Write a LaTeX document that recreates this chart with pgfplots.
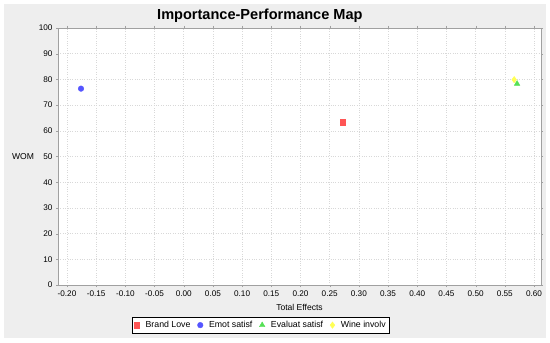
\documentclass[border=0pt]{standalone}
\usepackage{pgfplots}
\pgfplotsset{compat=1.18}
\usepackage{fontspec}
\setmainfont{Liberation Sans}
\definecolor{jred}{HTML}{FF5555}
\definecolor{jblue}{HTML}{5555FF}
\definecolor{jgreen}{HTML}{55E055}
\definecolor{jyellow}{HTML}{FFFF55}
\definecolor{panel}{HTML}{EEEEEE}
\definecolor{axgray}{HTML}{A0A0A0}
\definecolor{gridgray}{HTML}{D8D8D8}
\begin{document}
\begin{tikzpicture}[x=1bp,y=1bp]
\fill[white] (0,0) rectangle (550,342);
\fill[panel] (4,4) rectangle (546,338);
\begin{axis}[
  at={(58bp,57bp)}, anchor=south west,
  scale only axis, width=483bp, height=257bp,
  xmin=-0.2154, xmax=0.612, ymin=0, ymax=100,
  xtick={-0.20,-0.15,-0.10,-0.05,0,0.05,0.10,0.15,0.20,0.25,0.30,0.35,0.40,0.45,0.50,0.55,0.60},
  ytick={0,10,20,30,40,50,60,70,80,90,100},
  xticklabel style={/pgf/number format/fixed,/pgf/number format/fixed zerofill,/pgf/number format/precision=2},
  /pgf/number format/assume math mode=true,
  ticklabel style={font=\fontsize{8.2}{9}\selectfont},
  axis background/.style={fill=white},
  axis line style={axgray},
  tick style={axgray},
  tick align=outside, major tick length=2bp,
  grid=major, grid style={gridgray, dotted, line width=0.6pt},
  title={\textbf{Importance-Performance Map}},
  title style={font=\fontsize{14.6}{16}\selectfont, at={(axis description cs:0.418,1)}, anchor=center, yshift=6bp},
  xlabel={Total Effects},
  xlabel style={font=\fontsize{8.6}{9}\selectfont, at={(axis description cs:0.5,0)}, anchor=center, yshift=-22bp},
  ylabel={WOM},
  ylabel style={font=\fontsize{8.6}{9}\selectfont, at={(axis description cs:0,0.5)}, rotate=-90, anchor=center, xshift=-35bp},
  legend columns=-1,
  legend style={font=\fontsize{8.8}{10}\selectfont, at={(axis description cs:0.42,0)}, anchor=north, yshift=-32bp, draw=black, fill=white, inner xsep=2bp, inner ysep=2bp,
    /tikz/every odd column/.append style={column sep=4bp},
    /tikz/every even column/.append style={column sep=5bp}},
  legend cell align=left,
]
\addplot[only marks, mark=square*, mark size=2.8bp, jred, mark options={draw=jred, fill=jred}] coordinates {(0.272,63.3)};
\addlegendentry{Brand Love}
\addplot[only marks, mark=*, mark size=2.8bp, jblue, mark options={draw=jblue, fill=jblue}] coordinates {(-0.176,76.4)};
\addlegendentry{Emot satisf}
\addplot[only marks, mark=triangle*, mark size=3.2bp, jgreen, mark options={draw=jgreen, fill=jgreen}] coordinates {(0.571,78.3)};
\addlegendentry{Evaluat satisf}
\addplot[only marks, mark=diamond*, mark size=3.2bp, jyellow, mark options={draw=jyellow, fill=jyellow}] coordinates {(0.566,79.9)};
\addlegendentry{Wine involv}
\end{axis}
\end{tikzpicture}
\end{document}
